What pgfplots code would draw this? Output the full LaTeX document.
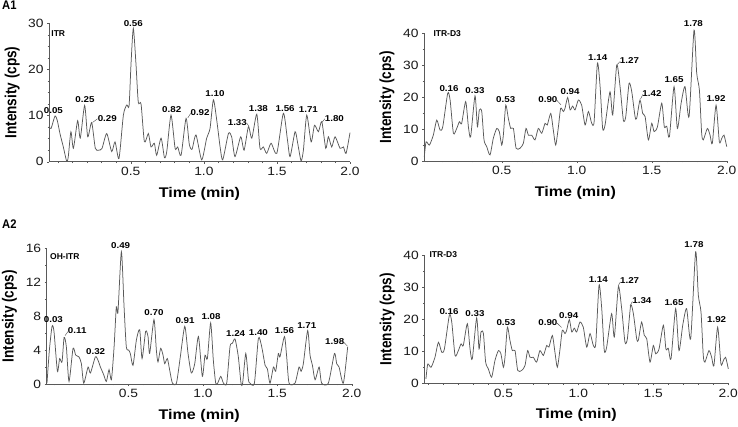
\documentclass[border=0pt]{standalone}
\usepackage{fontspec}
\setmainfont{Liberation Sans}
\newfontfamily\wfont{Liberation Sans}[FakeStretch=1.15]
\newfontfamily\nfont{Liberation Sans}[FakeStretch=0.9]
\usepackage{graphicx}
\usepackage{pgfplots}
\usepackage{pgfplotstable}
\pgfplotsset{compat=1.18}

\pgfplotstableread{
t v
-0.060 7.6
-0.046 7.2
-0.019 9.9
-0.003 8.9
0.015 6.1
0.038 3.2
0.061 0.1
0.072 1.1
0.090 6.5
0.107 2.9
0.136 8.9
0.154 5.1
0.184 12.2
0.205 5.4
0.232 8.5
0.257 2.9
0.280 2.5
0.303 2.9
0.335 6.1
0.369 2.2
0.392 4.3
0.419 0.7
0.449 10.1
0.472 12.3
0.488 12.1
0.501 21.0
0.517 28.9
0.535 21.3
0.551 12.9
0.570 12.5
0.593 4.3
0.620 6.1
0.638 3.2
0.661 4.0
0.677 1.4
0.707 5.1
0.730 0.9
0.746 2.2
0.775 10.1
0.803 2.9
0.821 3.2
0.844 1.4
0.878 9.4
0.900 3.8
0.919 2.7
0.946 5.8
0.985 0.4
1.019 5.1
1.042 7.2
1.065 13.4
1.088 9.0
1.111 3.2
1.129 0.4
1.168 6.1
1.190 5.4
1.213 1.1
1.252 5.4
1.275 2.5
1.305 7.6
1.328 5.1
1.362 10.3
1.384 2.9
1.407 3.2
1.430 1.8
1.460 4.0
1.499 1.8
1.544 10.5
1.572 4.7
1.590 1.1
1.624 6.5
1.642 4.0
1.665 0.2
1.681 2.5
1.704 10.1
1.734 4.3
1.757 7.9
1.784 6.5
1.807 8.7
1.834 2.9
1.852 5.4
1.875 3.2
1.898 5.4
1.932 2.9
1.955 3.2
1.973 1.8
2.000 6.3
}\dataITR

\pgfplotstableread{
t v
-0.016 1.4
-0.004 6.0
0.018 5.0
0.044 8.1
0.067 12.8
0.089 9.7
0.107 10.7
0.140 21.2
0.156 19.1
0.178 8.7
0.200 10.2
0.218 12.3
0.233 11.8
0.260 18.6
0.278 10.7
0.293 7.6
0.322 20.4
0.338 10.7
0.351 16.0
0.367 15.5
0.382 6.6
0.400 4.5
0.422 1.9
0.444 7.1
0.467 10.2
0.484 9.2
0.500 5.0
0.511 8.1
0.527 17.5
0.544 13.4
0.560 10.2
0.578 10.2
0.596 4.0
0.622 4.0
0.644 5.5
0.662 10.2
0.678 8.1
0.700 8.1
0.722 6.6
0.744 10.2
0.767 8.7
0.789 11.8
0.804 11.3
0.827 14.9
0.844 9.7
0.860 5.0
0.878 10.7
0.893 16.5
0.911 15.5
0.922 16.5
0.940 19.9
0.956 16.0
0.973 17.2
0.989 16.0
1.011 19.1
1.033 17.5
1.056 11.3
1.078 15.5
1.100 11.8
1.116 12.3
1.138 30.6
1.156 23.3
1.173 10.2
1.189 11.3
1.222 21.7
1.240 14.4
1.267 30.1
1.289 23.3
1.311 12.8
1.327 13.9
1.349 24.3
1.367 21.7
1.389 13.9
1.400 13.4
1.422 19.1
1.440 14.9
1.456 13.9
1.478 6.6
1.500 11.8
1.516 9.2
1.538 10.7
1.567 18.1
1.584 10.7
1.600 10.9
1.618 7.6
1.649 23.3
1.671 10.2
1.696 18.1
1.722 23.3
1.749 13.9
1.782 41.0
1.800 27.5
1.818 22.2
1.833 8.7
1.844 6.6
1.871 10.2
1.889 8.1
1.904 5.5
1.929 17.5
1.951 6.0
1.967 7.1
1.982 8.1
2.000 4.5
}\dataDthree

\pgfplotstableread{
t v
-0.048 0.1
-0.032 4.0
-0.014 6.8
-0.001 6.2
0.022 1.5
0.037 3.0
0.053 2.6
0.067 5.5
0.082 4.4
0.100 0.3
0.127 4.2
0.145 3.4
0.167 3.2
0.183 2.4
0.199 0.1
0.228 2.0
0.244 1.3
0.277 3.2
0.295 2.8
0.311 2.0
0.333 1.1
0.351 0.3
0.369 1.7
0.385 0.5
0.403 4.4
0.418 9.1
0.429 8.5
0.452 15.6
0.470 9.1
0.485 4.4
0.501 4.0
0.512 3.6
0.530 2.2
0.553 5.2
0.575 6.4
0.591 3.0
0.615 6.2
0.631 5.6
0.642 3.6
0.671 7.6
0.687 4.0
0.698 2.6
0.716 4.2
0.732 3.4
0.743 2.4
0.761 3.0
0.777 1.6
0.795 0.1
0.822 0.1
0.848 3.2
0.878 6.8
0.900 3.6
0.922 1.3
0.945 2.4
0.970 5.6
0.996 0.9
1.014 3.4
1.030 3.0
1.052 7.2
1.070 2.8
1.086 0.1
1.099 0.1
1.120 0.9
1.138 0.1
1.160 0.1
1.182 4.4
1.198 4.8
1.216 5.3
1.238 3.2
1.256 0.1
1.267 0.1
1.288 3.6
1.306 0.5
1.317 0.1
1.346 0.1
1.373 5.4
1.395 4.4
1.418 2.2
1.433 1.8
1.451 0.1
1.474 2.0
1.489 1.5
1.507 3.6
1.518 3.2
1.548 5.6
1.563 3.2
1.579 0.1
1.619 0.1
1.646 2.0
1.660 1.5
1.675 2.4
1.704 6.3
1.720 3.4
1.736 2.2
1.754 0.5
1.781 2.0
1.798 0.1
1.843 0.1
1.884 3.6
1.899 2.4
1.915 2.0
1.944 0.1
1.973 4.4
}\dataOH

\pgfplotsset{chrom/.style={
  scale only axis, clip=false,
  axis lines=left,
  axis line style={-, draw=black!65, line width=0.6pt},
  tick align=outside, major tick length=2pt, minor tick length=1.3pt,
  every tick/.style={black!65, line width=0.4pt},
  xmax=2.0, ymin=0,
  xtick={0.5,1.0,1.5,2.0}, xticklabels={0.5,1.0,1.5,2.0},
  minor xtick={0,0.1,...,2.0},
  ticklabel style={font=\wfont\fontsize{12}{13}\selectfont, text=black!90},
  /pgf/number format/assume math mode=true,
  xlabel={Time (min)},
  ylabel={\scalebox{0.97}[1.15]{Intensity (cps)}},
  xlabel style={font=\wfont\bfseries\fontsize{14}{16}\selectfont, at={(axis description cs:0.5,0)}, anchor=center, yshift=-32pt},
  ylabel style={font=\bfseries\fontsize{14}{16}\selectfont, at={(axis description cs:-0.122,0.5)}, anchor=center},
}}
\tikzset{
  pk/.style={font=\wfont\bfseries\fontsize{8.5}{9}\selectfont, inner sep=0pt},
  nm/.style={font=\bfseries\fontsize{8.5}{9}\selectfont, inner sep=0pt, anchor=west},
  ld/.style={draw=black!70, line width=0.4pt},
  trace/.style={black!65, line width=0.75pt, smooth, tension=0.4},
}

\begin{document}
\begin{tikzpicture}
\path[use as bounding box] (0pt,0pt) rectangle (738pt,-426pt);
\node[anchor=north west, inner sep=0pt, font=\nfont\bfseries\fontsize{12.5}{13}\selectfont] at (2pt,-1pt) {A1};
\node[anchor=north west, inner sep=0pt, font=\nfont\bfseries\fontsize{12.5}{13}\selectfont] at (2pt,-220pt) {A2};

% A1 ITR
\begin{axis}[chrom, at={(49pt,-161.7pt)}, anchor=south west, width=301pt, height=138.4pt,
  xmin=-0.06, ymax=30, ytick={0,10,20,30}, minor y tick num=3]
\addplot[trace] table[x=t,y=v] {\dataITR};
\node[nm] at (axis cs:-0.045,27.8) {ITR};
\node[pk] at (axis cs:-0.030,11.0) {0.05};
\node[pk] at (axis cs:0.186,13.5) {0.25};
\node[pk] at (axis cs:0.339,9.4) {0.29};
\draw[ld] (axis cs:0.238,8.5) -- (axis cs:0.272,9.3);
\node[pk] at (axis cs:0.517,30.0) {0.56};
\node[pk] at (axis cs:0.780,11.4) {0.82};
\node[pk] at (axis cs:0.974,10.6) {0.92};
\draw[ld] (axis cs:0.890,9.5) -- (axis cs:0.910,10.5);
\node[pk] at (axis cs:1.076,14.7) {1.10};
\node[pk] at (axis cs:1.229,8.4) {1.33};
\draw[ld] (axis cs:1.292,8.4) -- (axis cs:1.308,7.7);
\node[pk] at (axis cs:1.373,11.6) {1.38};
\node[pk] at (axis cs:1.556,11.6) {1.56};
\node[pk] at (axis cs:1.715,11.3) {1.71};
\node[pk] at (axis cs:1.893,9.4) {1.80};
\draw[ld] (axis cs:1.810,8.6) -- (axis cs:1.828,9.3);
\end{axis}

% top right ITR-D3
\begin{axis}[chrom, at={(424pt,-161pt)}, anchor=south west, width=302.7pt, height=127.7pt,
  xmin=-0.018, ymax=40, ytick={0,10,20,30,40}, minor y tick num=1]
\addplot[trace] table[x=t,y=v] {\dataDthree};
\node[nm] at (axis cs:0.044,39.8) {ITR-D3};
\node[pk] at (axis cs:0.149,22.8) {0.16};
\node[pk] at (axis cs:0.322,22.2) {0.33};
\node[pk] at (axis cs:0.527,19.3) {0.53};
\node[pk] at (axis cs:0.808,19.1) {0.90};
\draw[ld] (axis cs:0.868,19.0) -- (axis cs:0.895,17.6);
\node[pk] at (axis cs:0.956,21.7) {0.94};
\node[pk] at (axis cs:1.140,32.4) {1.14};
\node[pk] at (axis cs:1.352,31.4) {1.27};
\draw[ld] (axis cs:1.272,30.3) -- (axis cs:1.290,31.2);
\node[pk] at (axis cs:1.502,21.2) {1.42};
\draw[ld] (axis cs:1.425,19.4) -- (axis cs:1.442,20.9);
\node[pk] at (axis cs:1.649,25.4) {1.65};
\node[pk] at (axis cs:1.778,43.1) {1.78};
\node[pk] at (axis cs:1.929,19.6) {1.92};
\end{axis}

% A2 OH-ITR
\begin{axis}[chrom, at={(46.7pt,-384pt)}, anchor=south west, width=305pt, height=135.7pt,
  xmin=-0.05, ymax=16, ytick={0,4,8,12,16}, minor y tick num=1]
\addplot[trace] table[x=t,y=v] {\dataOH};
\node[nm] at (axis cs:-0.028,15.0) {OH-ITR};
\node[pk] at (axis cs:-0.005,7.6) {0.03};
\node[pk] at (axis cs:0.155,6.3) {0.11};
\draw[ld] (axis cs:0.073,5.7) -- (axis cs:0.094,6.2);
\node[pk] at (axis cs:0.279,3.8) {0.32};
\node[pk] at (axis cs:0.447,16.3) {0.49};
\node[pk] at (axis cs:0.671,8.4) {0.70};
\node[pk] at (axis cs:0.880,7.5) {0.91};
\node[pk] at (axis cs:1.055,7.9) {1.08};
\node[pk] at (axis cs:1.220,6.0) {1.24};
\node[pk] at (axis cs:1.373,6.1) {1.40};
\node[pk] at (axis cs:1.548,6.3) {1.56};
\node[pk] at (axis cs:1.698,6.9) {1.71};
\node[pk] at (axis cs:1.886,5.0) {1.98};
\draw[ld] (axis cs:1.948,4.9) -- (axis cs:1.970,4.5);
\end{axis}

% bottom right ITR-D3
\begin{axis}[chrom, at={(424.3pt,-383.3pt)}, anchor=south west, width=304pt, height=128.3pt,
  xmin=-0.027, ymax=40, ytick={0,10,20,30,40}, minor y tick num=1]
\addplot[trace] table[x=t,y=v] {\dataDthree};
\node[nm] at (axis cs:0.007,40.0) {ITR-D3};
\node[pk] at (axis cs:0.138,22.5) {0.16};
\node[pk] at (axis cs:0.311,21.8) {0.33};
\node[pk] at (axis cs:0.518,18.9) {0.53};
\node[pk] at (axis cs:0.797,18.9) {0.90};
\draw[ld] (axis cs:0.858,18.8) -- (axis cs:0.888,17.4);
\node[pk] at (axis cs:0.936,21.1) {0.94};
\node[pk] at (axis cs:1.133,32.2) {1.14};
\node[pk] at (axis cs:1.342,31.9) {1.27};
\draw[ld] (axis cs:1.265,30.3) -- (axis cs:1.280,31.6);
\node[pk] at (axis cs:1.424,25.8) {1.34};
\draw[ld] (axis cs:1.344,24.1) -- (axis cs:1.360,25.5);
\node[pk] at (axis cs:1.638,25.2) {1.65};
\node[pk] at (axis cs:1.771,43.1) {1.78};
\node[pk] at (axis cs:1.922,19.8) {1.92};
\end{axis}
\end{tikzpicture}
\end{document}
